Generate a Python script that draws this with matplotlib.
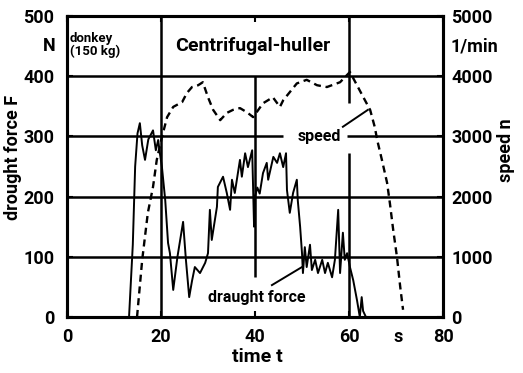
import matplotlib
matplotlib.use("Agg")
import matplotlib.pyplot as plt

FONT = ['Roboto', 'DejaVu Sans']
plt.rcParams['font.family'] = FONT
plt.rcParams['font.weight'] = 'bold'

# ---- data ----
force_t = [13.2, 14.0, 14.5, 15.0, 15.5, 16.0, 16.6, 17.3, 18.3, 18.9,
           19.4, 19.8, 20.2, 20.9, 21.5, 21.9, 22.6, 23.5, 24.7, 25.3,
           26.0, 26.6, 27.2, 28.3, 29.4, 30.0, 30.4, 30.8, 31.9, 32.1,
           33.2, 34.0, 34.7, 35.1, 35.7, 36.8, 37.2, 37.9, 38.5, 39.4,
           39.8, 40.0, 40.5, 41.0, 41.7, 42.5, 42.8, 43.9, 44.7, 45.3,
           46.0, 46.6, 46.8, 47.4, 48.1, 48.9, 49.1, 49.6, 50.0, 50.2,
           50.6, 51.0, 51.7, 52.1, 52.8, 53.4, 54.3, 54.9, 55.5, 56.4,
           57.0, 57.7, 58.1, 58.7, 59.1, 59.6, 60.2, 60.9, 61.7, 62.3,
           62.7, 63.0, 63.6]
force_F = [0, 120, 250, 305, 322, 285, 261, 295, 310, 277,
           294, 270, 249, 194, 123, 106, 45, 100, 158, 95,
           33, 60, 83, 73, 90, 106, 178, 128, 183, 216,
           233, 206, 178, 228, 206, 261, 233, 272, 249, 277,
           150, 200, 215, 205, 239, 256, 228, 266, 256, 272,
           249, 272, 211, 173, 206, 228, 194, 150, 106, 73,
           116, 83, 120, 78, 95, 73, 95, 73, 90, 66,
           95, 178, 73, 140, 95, 106, 83, 61, 28, 0,
           33, 10, 0]

speed_t = [14.9, 16.0, 17.2, 18.3, 19.1, 20.2, 21.3, 22.6, 24.5, 25.5,
           26.6, 27.9, 28.9, 30.0, 31.1, 32.6, 34.0, 35.3, 36.8, 38.3,
           39.6, 41.7, 43.8, 45.3, 46.0, 48.9, 51.0, 53.2, 55.3, 58.1,
           60.2, 61.9, 63.4, 64.5, 65.5, 66.0, 67.0, 68.1, 68.7, 69.4,
           70.2, 70.9, 71.5]
speed_n = [0, 950, 1730, 2160, 2610, 2990, 3320, 3490, 3570, 3720,
           3820, 3850, 3900, 3650, 3440, 3270, 3390, 3440, 3470, 3400,
           3320, 3550, 3650, 3490, 3600, 3880, 3940, 3850, 3820, 3900,
           4070, 3820, 3600, 3440, 3150, 2940, 2610, 2230, 1890, 1450,
           1000, 500, 120]

x_ticks = [0, 20, 40, 60, 80]
force_ticks = [0, 100, 200, 300, 400, 500]
speed_ticks = [0, 1000, 2000, 3000, 4000, 5000]

# ---- figure ----
fig = plt.figure(figsize=(5.23, 3.73), dpi=100)
ax = fig.add_axes([67 / 523, 1 - 317 / 373, 376 / 523, 301 / 373])
ax2 = ax.twinx()

ax.set_xlim(0, 80)
ax.set_ylim(0, 500)
ax2.set_ylim(0, 5000)

grid_kw = dict(color='black', lw=1.8, solid_capstyle='butt', zorder=1)
# horizontal grid
for yv in (100, 200, 400):
    ax.plot([0, 80], [yv, yv], **grid_kw)
ax.plot([0, 46], [300, 300], **grid_kw)
ax.plot([59.6, 80], [300, 300], **grid_kw)
# vertical grid
ax.plot([20, 20], [0, 500], **grid_kw)
ax.plot([40, 40], [67, 400], **grid_kw)
ax.plot([60, 60], [0, 272], **grid_kw)
ax.plot([60, 60], [355, 500], **grid_kw)

# curves
ax.plot(force_t, force_F, color='black', lw=1.4, zorder=3)
ax2.plot(speed_t, speed_n, color='black', lw=1.7, dashes=(3.0, 2.0), zorder=3)

# spines
for a in (ax, ax2):
    for s in a.spines.values():
        s.set_linewidth(2.2)

TS = 13
ax.set_xticks(x_ticks)
ax.set_xticklabels([str(v) for v in x_ticks])
ax.set_yticks(force_ticks)
ax.set_yticklabels([str(v) for v in force_ticks])
ax2.set_yticks(speed_ticks)
ax2.set_yticklabels([str(v) for v in speed_ticks])

ax.tick_params(axis='both', direction='in', length=4, width=1.5,
               labelsize=TS, top=True)
ax.tick_params(axis='x', pad=8)
ax.tick_params(axis='y', pad=9)
ax2.tick_params(axis='y', direction='in', length=4, width=1.5,
                labelsize=TS, pad=6)
for lab in ax.get_xticklabels() + ax.get_yticklabels() + ax2.get_yticklabels():
    lab.set_fontweight('bold')

# unit labels
ax.text(-2.4, 450, 'N', ha='right', va='center', fontsize=TS, fontweight='bold')
ax2.text(81.5, 4500, '1/min', ha='left', va='center', fontsize=TS, fontweight='bold')
ax.text(70.5, -33, 's', ha='center', va='center', fontsize=TS, fontweight='bold')

ax.set_xlabel('time t', fontsize=14, fontweight='bold')
ax.xaxis.set_label_coords((257 - 67) / 376, (317 - 357) / 301)
ax.xaxis.label.set_va('center')
ax.set_ylabel('drought force F', fontsize=13, fontweight='bold')
ax.yaxis.set_label_coords((13 - 67) / 376, (317 - 157) / 301)
ax.yaxis.label.set_va('center')
ax2.set_ylabel('speed n', fontsize=13, fontweight='bold', rotation=90)
ax2.yaxis.set_label_coords((506 - 67) / 376, (317 - 150) / 301)
ax2.yaxis.label.set_va('center')
ax2.yaxis.label.set_ha('center')

# header texts
ax.text(0.6, 474, 'donkey\n(150 kg)', ha='left', va='top', fontsize=9.5,
        fontweight='bold', linespacing=1.0)
ax.text(39.6, 450, 'Centrifugal-huller', ha='center', va='center',
        fontsize=14, fontweight='bold')

# annotations
ax.text(53.6, 300, 'speed', ha='center', va='center', fontsize=11.5, fontweight='bold')
ax.plot([58.7, 64.0], [316, 344], color='black', lw=1.4, zorder=3)
ax.text(40.4, 33, 'draught force', ha='center', va='center', fontsize=11.5,
        fontweight='bold')
ax.plot([43.6, 50.0], [53, 83], color='black', lw=1.4, zorder=3)

fig.savefig('out.png', dpi=100)
